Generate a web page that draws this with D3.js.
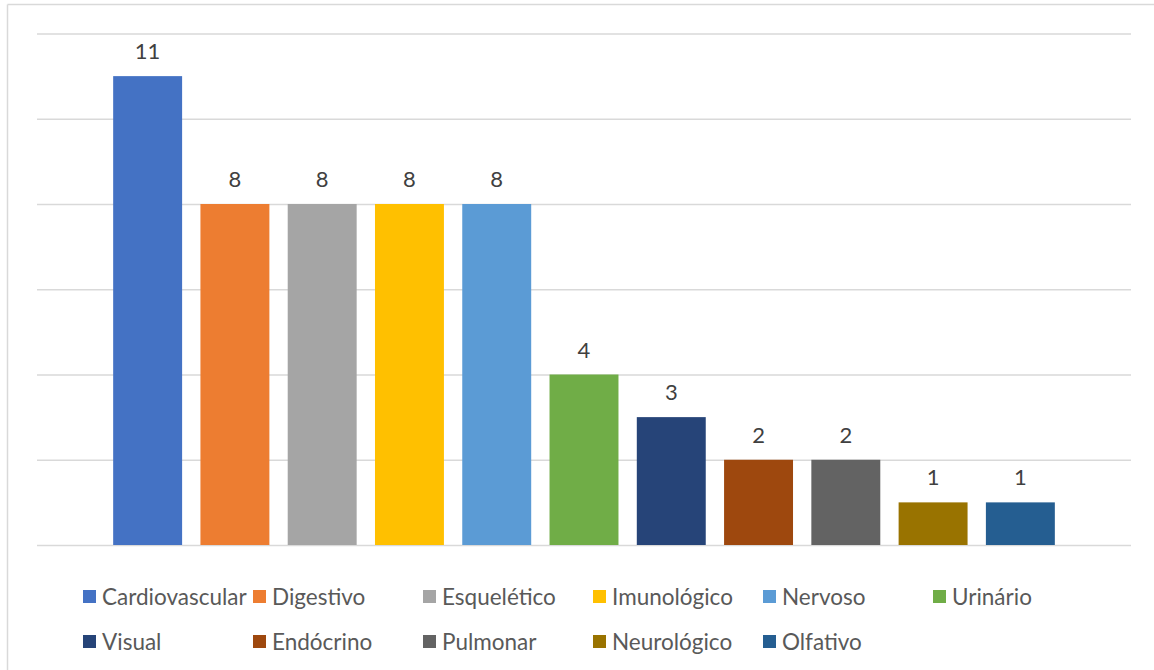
<!DOCTYPE html>
<html>
<head>
<meta charset="utf-8">
<script src="https://cdn.jsdelivr.net/npm/d3@7"></script>
<style>
  html, body { margin: 0; padding: 0; background: #fff; }
  svg { display: block; font-family: Lato, "Open Sans", sans-serif; }
</style>
</head>
<body>
<svg id="chart" width="1154" height="670"></svg>
<script>
const categories = ["Cardiovascular", "Digestivo", "Esquelético", "Imunológico", "Nervoso", "Urinário",
                    "Visual", "Endócrino", "Pulmonar", "Neurológico", "Olfativo"];
const values = [11, 8, 8, 8, 8, 4, 3, 2, 2, 1, 1];
const colors = ["#4472C4", "#ED7D31", "#A5A5A5", "#FFC000", "#5B9BD5", "#70AD47",
                "#264478", "#9E480E", "#636363", "#997300", "#255E91"];
const yTicks = [0, 2, 4, 6, 8, 10, 12];

const svg = d3.select("#chart");

// outer chart border (top & left visible)
svg.append("line").attr("x1", 7.5).attr("x2", 1154).attr("y1", 4.5).attr("y2", 4.5)
  .attr("stroke", "#d9d9d9").attr("stroke-width", 1.5);
svg.append("line").attr("x1", 7.5).attr("x2", 7.5).attr("y1", 4.5).attr("y2", 670)
  .attr("stroke", "#d9d9d9").attr("stroke-width", 1.5);

const plotLeft = 37, plotRight = 1131;
const y = d3.scaleLinear().domain([0, 12]).range([545, 33.5]);
const x = d3.scaleBand().domain(categories)
  .range([plotLeft + 67, plotRight - 67])
  .paddingInner(0.21).paddingOuter(0.105);

// gridlines
const yAxis = d3.axisLeft(y).tickValues(yTicks).tickSize(-(plotRight - plotLeft)).tickFormat("");
const gAxis = svg.append("g").attr("transform", `translate(${plotLeft},0)`).call(yAxis);
gAxis.select(".domain").remove();
gAxis.selectAll(".tick line").attr("stroke", "#d9d9d9").attr("stroke-width", 1.5);

// bars
svg.append("g").selectAll("rect").data(categories).join("rect")
  .attr("x", d => x(d))
  .attr("width", x.bandwidth())
  .attr("y", (d, i) => y(values[i]))
  .attr("height", (d, i) => y(0) - y(values[i]))
  .attr("fill", (d, i) => colors[i]);

// value labels
svg.append("g").selectAll("text").data(categories).join("text")
  .attr("x", d => x(d) + x.bandwidth() / 2)
  .attr("y", (d, i) => y(values[i]) - 17)
  .attr("text-anchor", "middle")
  .attr("font-size", 22)
  .attr("fill", "#404040")
  .text((d, i) => values[i]);

// legend
const legendX0 = 83, colW = 170, row1 = 597, rowH = 45;
const leg = svg.append("g").selectAll("g").data(categories).join("g")
  .attr("transform", (d, i) => `translate(${legendX0 + (i % 6) * colW},${row1 + Math.floor(i / 6) * rowH})`);
leg.append("rect").attr("x", 0).attr("y", -7).attr("width", 13).attr("height", 13)
  .attr("fill", (d, i) => colors[i]);
leg.append("text").attr("x", 19).attr("y", 0).attr("dy", "0.35em")
  .attr("font-size", 22.5).attr("fill", "#595959")
  .text(d => d);
</script>
</body>
</html>
